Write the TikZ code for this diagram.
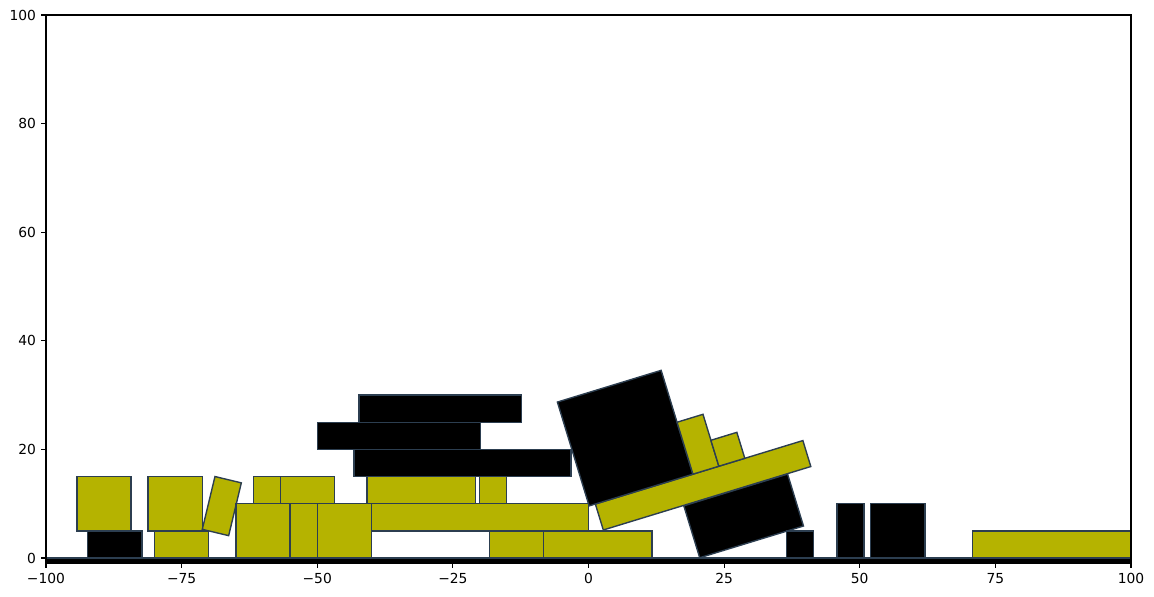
\documentclass[tikz,border=0pt]{standalone}
\usepackage{fontspec}
\setmainfont{DejaVu Sans}
\usepackage{tikz}
\usetikzlibrary{positioning}
\definecolor{blockyellow}{RGB}{181,179,0}
\definecolor{edgeslate}{RGB}{44,62,80}
\tikzset{
  yblock/.style={fill=blockyellow, draw=edgeslate, line width=1pt},
  bblock/.style={fill=black, draw=edgeslate, line width=1pt},
  spine/.style={draw=black, line width=0.8pt},
  axtick/.style={draw=black, line width=0.8pt},
  ticklabel/.style={font=\fontsize{10}{12}\selectfont, inner sep=0pt}
}

\begin{document}
\begin{tikzpicture}[x=1.37795mm, y=1.37922mm]
\useasboundingbox (-108.479,-7.182) rectangle (104.240,102.762);
\begin{scope}
\clip (-100,-1) rectangle (100,100);
% ground
\draw[bblock] (-101,-2) rectangle (101,0);
% left heap
\draw[bblock] (-92.3,0) rectangle (-82.3,5);
\draw[yblock] (-94.3,5) rectangle (-84.3,15);
\draw[yblock] (-80,0) rectangle (-70,5);
\draw[yblock] (-81.2,5) rectangle (-71.2,15);
\draw[yblock, shift={(-71.19,5.28)}, rotate=-13.5] (0,0) rectangle (5,10);
\draw[yblock] (-65,0) rectangle (-55,10);
\draw[yblock] (-55,0) rectangle (-50,10);
\draw[yblock] (-50,0) rectangle (-40,10);
\draw[yblock] (-61.8,10) rectangle (-56.8,15);
\draw[yblock] (-56.8,10) rectangle (-46.8,15);
% middle stack
\draw[yblock] (-40,5) rectangle (0,10);
\draw[yblock] (-40.8,10) rectangle (-20.8,15);
\draw[yblock] (-20.1,10) rectangle (-15.1,15);
\draw[bblock] (-43.2,15) rectangle (-3.2,20);
\draw[bblock] (-49.9,20) rectangle (-19.9,25);
\draw[bblock] (-42.3,25) rectangle (-12.3,30);
\draw[yblock] (-18.3,0) rectangle (-8.3,5);
\draw[yblock] (-8.3,0) rectangle (11.7,5);
% tilted group
\draw[bblock, shift={(20.5,0.05)}, rotate=17] (0,0) rectangle (20,10);
\draw[yblock, shift={(2.73,5.16)}, rotate=17] (0,0) rectangle (40,5);
\draw[bblock, shift={(0.12,9.59)}, rotate=17] (0,0) rectangle (20,20);
\draw[yblock, shift={(19.25,15.44)}, rotate=17] (0,0) rectangle (5,10);
\draw[yblock, shift={(24.03,16.90)}, rotate=17] (0,0) rectangle (5,5);
% right side
\draw[bblock] (36.5,0) rectangle (41.5,5);
\draw[bblock] (45.8,0) rectangle (50.8,10);
\draw[bblock] (52,0) rectangle (62,10);
\draw[yblock] (70.8,0) rectangle (100.8,5);
\end{scope}
% axes
\draw[spine] (-100,-1) rectangle (100,100);
\foreach \v/\t [count=\i] in {-100/−100,-75/−75,-50/−50,-25/−25,0/0,25/25,50/50,75/75,100/100} {
  \draw[axtick] (\v,-1) -- ++(0,-3.5pt);
  \node[ticklabel, anchor=north] (xlab\i) at ([yshift=-7pt]\v,-1) {\t};
}
\foreach \v [count=\i] in {0,20,40,60,80,100} {
  \draw[axtick] (-100,\v) -- ++(-3.5pt,0);
  \node[ticklabel, anchor=east] (ylab\i) at ([xshift=-7pt]-100,\v) {\v};
}
\end{tikzpicture}
\end{document}
